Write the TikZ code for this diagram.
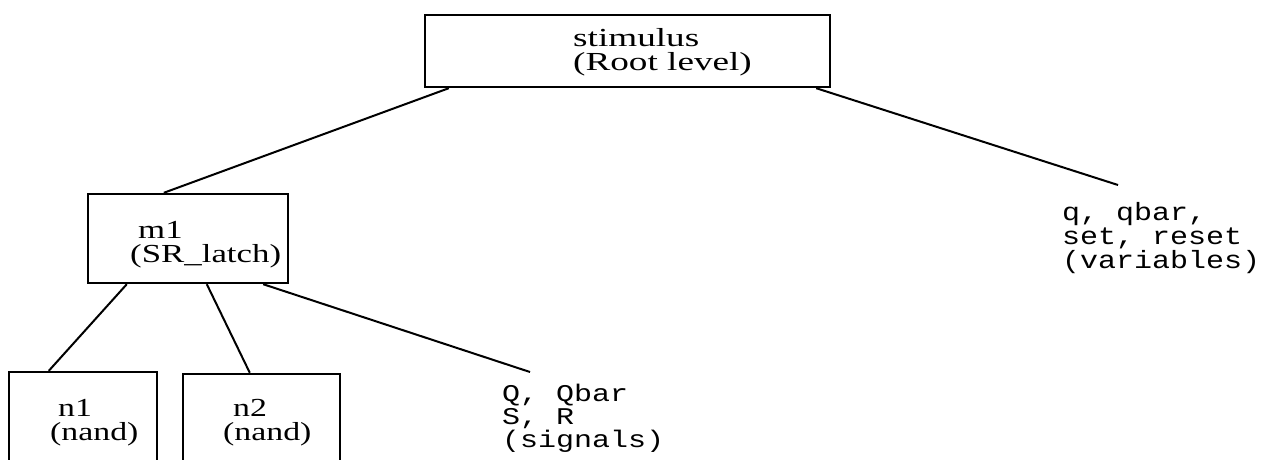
\documentclass[tikz,border=0pt]{standalone}
\usepackage{fontspec}
\usepackage{graphicx}
\setmainfont{Liberation Serif}
\newfontfamily\codefont{Liberation Mono}
\usetikzlibrary{calc}
\newcommand{\wide}[2][1.2]{\scalebox{#1}[1]{#2}}
\newcommand{\tightlines}{\lineskiplimit=-30pt\relax}

\begin{document}
\begin{tikzpicture}[x=1pt,y=-1pt,
  unit/.style={draw,line width=2.4pt,inner sep=0pt},
  unitlbl/.style={font={\fontsize{26}{24}\selectfont\tightlines},align=left,inner sep=0pt,anchor=base west},
  symlist/.style={font={\codefont\fontsize{25}{24}\selectfont\tightlines},align=left,inner sep=0pt,anchor=base west},
  branch/.style={line width=2pt}]
  \useasboundingbox (0,0) rectangle (1265,459);
  \clip (0,0) rectangle (1265,459);
  % module boxes (the two gate boxes run off the bottom)
  \node[unit,minimum width=405pt,minimum height=72pt] (root) at (627.5,51) {};
  \node[unit,minimum width=200pt,minimum height=89pt] (m1) at (188,238.5) {};
  \node[unit,minimum width=148pt,minimum height=108pt] (n1) at (83,426) {};
  \node[unit,minimum width=157pt,minimum height=106pt] (n2) at (261.5,427) {};
  % box texts (anchored on the last line)
  \node[unitlbl] (rootlbl) at (573,70) {\wide[1.43]{stimulus}\\\wide[1.43]{(Root level)}};
  \node[unitlbl] (m1lbl) at (130,262) {\hspace*{8pt}\wide[1.34]{m1}\\\wide[1.34]{(SR\_latch)}};
  \node[unitlbl] (n1lbl) at (50,440) {\hspace*{8pt}\wide[1.3]{n1}\\\wide[1.3]{(nand)}};
  \node[unitlbl] (n2lbl) at (223,440) {\hspace*{10pt}\wide[1.3]{n2}\\\wide[1.3]{(nand)}};
  % leaf lists
  \node[symlist,font={\codefont\fontsize{24}{23}\selectfont\tightlines}] (sigs) at (502,447) {\wide[1.25]{Q, Qbar}\\\wide[1.25]{S, R}\\\wide[1.25]{(signals)}};
  \node[symlist] (varlist) at (1062,268) {\wide{q, qbar,}\\\wide{set, reset}\\\wide{(variables)}};
  % tree branches
  \draw[branch] ($(root.south west)+(25,0)$) -- ($(m1.north west)+(77,0)$);
  \draw[branch] ($(root.south east)+(-15,0)$) -- ($(varlist.base west)+(56,-83)$);
  \draw[branch] ($(m1.south west)+(40,0)$) -- ($(n1.north west)+(41,0)$);
  \draw[branch] ($(m1.south west)+(120,0)$) -- ($(n2.north west)+(68,0)$);
  \draw[branch] ($(m1.south east)+(-26,0)$) -- ($(sigs.base west)+(28,-75)$);
\end{tikzpicture}
\end{document}
